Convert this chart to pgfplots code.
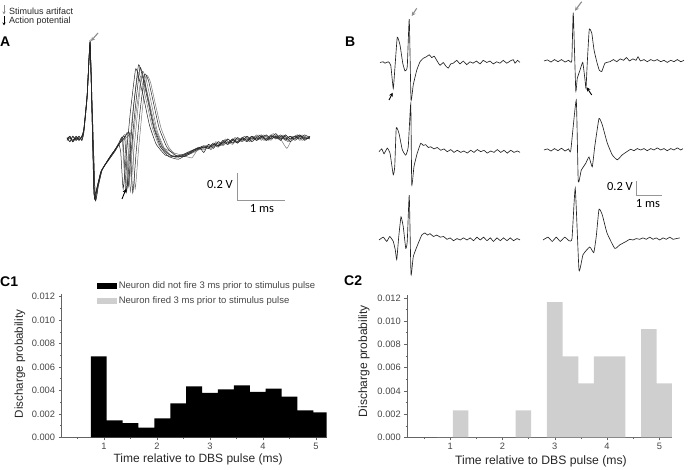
\documentclass[border=0pt]{standalone}
\usepackage{fontspec}
\setmainfont{Liberation Sans}
\newfontfamily\carlito{Carlito}
\usepackage{pgfplots}
\pgfplotsset{compat=1.18}
\usetikzlibrary{arrows.meta}
\definecolor{trace}{RGB}{35,35,35}
\definecolor{gtrace}{RGB}{120,120,120}
\definecolor{arrowgray}{RGB}{140,140,140}
\definecolor{bargray}{RGB}{207,207,207}
\definecolor{axgray}{RGB}{100,100,100}
\definecolor{txtgray}{RGB}{70,70,70}
\definecolor{scalegray}{RGB}{150,150,150}

\pgfplotsset{
  awave/.style={hide axis, clip=false, x=48pt, y=135pt, xmin=0, xmax=5.1, ymin=-0.6, ymax=0.8, anchor=south west},
  bwave/.style={hide axis, clip=false, x=25pt, y=70pt, xmin=0, xmax=5.7, ymin=-0.6, ymax=0.8, anchor=south west},
  bk/.style={trace, line width=0.5pt, smooth, tension=0.25},
  gy/.style={gtrace, line width=0.5pt, smooth, tension=0.25},
  bt/.style={trace, line width=0.65pt, smooth, tension=0.25},
  hist/.style={
    scale only axis, anchor=south west,
    axis x line*=bottom, axis y line*=left,
    axis line style={draw=axgray, line width=0.6pt, -},
    xtick={1,2,3,4,5}, minor xtick={0.5,1.5,2.5,3.5,4.5},
    ytick={0,0.002,0.004,0.006,0.008,0.010,0.012},
    minor ytick={0.001,0.003,0.005,0.007,0.009,0.011},
    tick align=outside, major tick length=3pt, minor tick length=1.6pt,
    tick style={draw=axgray, line width=0.5pt},
    scaled y ticks=false,
    yticklabel style={/pgf/number format/.cd, fixed, fixed zerofill, precision=3},
    xticklabel style={yshift=1pt},
    /pgf/number format/assume math mode=true,
    ticklabel style={font=\fontsize{9.3}{9.3}\selectfont, text=txtgray},
    xlabel={Time relative to DBS pulse (ms)},
    ylabel={Discharge probability},
    ymin=0, ymax=0.0122,
  },
}

\begin{document}
\begin{tikzpicture}
\path[use as bounding box] (0pt,0pt) rectangle (688pt,470pt);

% ---------- top key ----------
\draw[-{Stealth[length=3pt,width=3pt]}, arrowgray, line width=0.8pt] (4pt,465pt) -- (4pt,455.5pt);
\node[anchor=west, inner sep=0pt, font=\fontsize{9}{9}\selectfont, text=black!85] at (9pt,459pt) {Stimulus artifact};
\draw[-{Stealth[length=3pt,width=3pt]}, black, line width=0.8pt] (4pt,454pt) -- (4pt,444.5pt);
\node[anchor=west, inner sep=0pt, font=\fontsize{9}{9}\selectfont, text=black!85] at (9pt,449pt) {Action potential};

% ---------- panel labels ----------
\node[anchor=north west, inner sep=0pt, font=\fontsize{14}{14}\selectfont\bfseries] at (0pt,433pt) {A};
\node[anchor=north west, inner sep=0pt, font=\fontsize{14}{14}\selectfont\bfseries] at (345pt,433pt) {B};
\node[anchor=north west, inner sep=0pt, font=\fontsize{14}{14}\selectfont\bfseries] at (0pt,193pt) {C1};
\node[anchor=north west, inner sep=0pt, font=\fontsize{14}{14}\selectfont\bfseries] at (344pt,194pt) {C2};

% ---------- Panel A ----------
\begin{axis}[awave, at={(67pt,250pt)}]
\addplot[gy] coordinates {(0,0.01) (0.06,-0.02) (0.12,0.02) (0.19,-0.01) (0.25,0.02) (0.31,-0.01) (0.35,0.05) (0.42,0.31) (0.48,0.71) (0.53,0.18) (0.59,-0.45) (0.65,-0.35) (0.73,-0.23) (0.83,-0.17) (0.92,-0.12) (1.0,-0.08)
 (1.08,-0.04) (1.15,0.0) (1.22,-0.38) (1.29,-0.1) (1.37,0.2) (1.48,0.49) (1.55,0.44) (1.66,0.27) (1.78,0.08) (1.92,-0.05) (2.1,-0.11) (2.3,-0.14) (2.5,-0.1) (2.7,-0.07)
 (2.85,-0.08) (2.95,-0.05) (3.05,-0.06) (3.15,-0.03) (3.25,-0.05) (3.35,-0.02) (3.45,-0.04) (3.55,0.0) (3.65,-0.02) (3.75,0.01) (3.85,-0.01) (3.95,0.02) (4.05,-0.01) (4.15,0.03) (4.25,0.0) (4.35,0.02) (4.45,-0.01) (4.55,0.03) (4.65,0.0) (4.75,0.02) (4.85,-0.01) (4.95,0.02) (5.06,0.0)};
\addplot[gy] coordinates {(0,0) (0.06,0.02) (0.12,-0.02) (0.19,0.01) (0.25,-0.01) (0.31,0.02) (0.35,0.07) (0.42,0.33) (0.48,0.72) (0.52,0.21) (0.57,-0.43) (0.63,-0.36) (0.71,-0.24) (0.81,-0.18) (0.9,-0.13) (1.0,-0.08)
 (1.1,-0.03) (1.2,0.01) (1.26,0.04) (1.32,-0.39) (1.39,-0.1) (1.47,0.2) (1.57,0.5) (1.65,0.44) (1.76,0.26) (1.88,0.06) (2.03,-0.07) (2.2,-0.13) (2.4,-0.12) (2.6,-0.1) (2.8,-0.06)
 (2.9,-0.05) (3.0,-0.07) (3.1,-0.03) (3.2,-0.05) (3.3,-0.01) (3.4,-0.03) (3.5,0.01) (3.6,-0.02) (3.7,0.02) (3.8,-0.01) (3.9,0.02) (4.0,0.0) (4.1,0.03) (4.2,-0.01) (4.3,0.02) (4.4,0.0) (4.5,0.03) (4.6,-0.01) (4.7,0.02) (4.8,0.01) (4.9,0.03) (5.0,0.0) (5.06,0.02)};
\addplot[gy] coordinates {(0,-0.01) (0.06,0.01) (0.12,-0.01) (0.19,0.02) (0.25,0.0) (0.31,0.01) (0.35,0.06) (0.42,0.32) (0.48,0.7) (0.52,0.2) (0.56,-0.4) (0.61,-0.38) (0.7,-0.25) (0.8,-0.19) (0.9,-0.14) (1.0,-0.09)
 (1.1,-0.03) (1.2,0.0) (1.32,0.04) (1.36,0.03) (1.42,-0.37) (1.49,-0.08) (1.57,0.22) (1.66,0.47) (1.74,0.42) (1.84,0.26) (1.96,0.08) (2.12,-0.06) (2.3,-0.13) (2.5,-0.12) (2.7,-0.09) (2.9,-0.05)
 (3.0,-0.08) (3.1,-0.02) (3.2,-0.05) (3.3,0.0) (3.4,-0.03) (3.5,0.01) (3.6,-0.01) (3.7,0.02) (3.8,-0.02) (3.9,0.01) (4.0,0.03) (4.1,-0.01) (4.2,0.01) (4.3,0.04) (4.4,0.0) (4.5,0.02) (4.6,-0.02) (4.7,0.01) (4.8,0.03) (4.9,-0.01) (5.06,0.02)};
\addplot[gy] coordinates {(0,0.01) (0.06,-0.02) (0.12,0.02) (0.19,-0.01) (0.25,0.02) (0.31,-0.01) (0.35,0.05) (0.42,0.31) (0.48,0.71) (0.53,0.18) (0.59,-0.45) (0.65,-0.35) (0.73,-0.23) (0.83,-0.17) (0.92,-0.12) (1.0,-0.08)
 (1.1,-0.02) (1.22,0.03) (1.29,-0.35) (1.36,-0.07) (1.44,0.2) (1.55,0.46) (1.63,0.41) (1.73,0.25) (1.85,0.07) (2.0,-0.06) (2.2,-0.1) (2.4,-0.12) (2.6,-0.14) (2.72,-0.08) (2.85,-0.07)
 (2.95,-0.04) (3.05,-0.06) (3.15,-0.02) (3.25,-0.04) (3.35,0.0) (3.45,-0.03) (3.55,0.01) (3.65,-0.02) (3.75,0.02) (3.85,0.0) (3.95,0.03) (4.05,0.0) (4.15,0.02) (4.25,-0.01) (4.35,0.03) (4.45,0.0) (4.58,-0.07) (4.7,0.01) (4.8,0.03) (4.9,0.0) (5.06,0.02)};
\addplot[bk] coordinates {(0,0) (0.06,0.02) (0.12,-0.02) (0.19,0.01) (0.25,-0.01) (0.31,0.02) (0.35,0.07) (0.42,0.33) (0.48,0.72) (0.52,0.21) (0.57,-0.43) (0.63,-0.36) (0.71,-0.24) (0.81,-0.18) (0.9,-0.13) (1.0,-0.08)
 (1.08,-0.04) (1.12,-0.1) (1.17,-0.37) (1.24,-0.1) (1.32,0.2) (1.43,0.52) (1.5,0.45) (1.6,0.3) (1.72,0.1) (1.86,-0.04) (2.05,-0.12) (2.25,-0.13) (2.45,-0.11) (2.65,-0.08)
 (2.85,-0.06) (2.95,-0.07) (3.05,-0.04) (3.15,-0.05) (3.25,-0.02) (3.35,-0.04) (3.45,-0.01) (3.55,-0.03) (3.65,0.0) (3.75,-0.02) (3.85,0.01) (3.95,-0.01) (4.05,0.02) (4.15,0.0) (4.25,0.03) (4.35,0.0) (4.45,0.02) (4.55,-0.01) (4.65,0.02) (4.75,0.0) (4.85,0.03) (4.95,0.0) (5.06,0.01)};
\addplot[bk] coordinates {(0,-0.01) (0.06,0.01) (0.12,-0.01) (0.19,0.02) (0.25,0.0) (0.31,0.01) (0.35,0.06) (0.42,0.32) (0.48,0.7) (0.52,0.2) (0.56,-0.4) (0.61,-0.38) (0.7,-0.25) (0.8,-0.19) (0.9,-0.14) (1.0,-0.09)
 (1.1,-0.03) (1.2,0.02) (1.27,-0.36) (1.34,-0.08) (1.42,0.22) (1.52,0.53) (1.6,0.45) (1.7,0.28) (1.82,0.08) (1.98,-0.06) (2.15,-0.12) (2.35,-0.13) (2.55,-0.1) (2.75,-0.06)
 (2.85,-0.1) (2.95,-0.04) (3.05,-0.07) (3.15,-0.02) (3.25,-0.04) (3.35,0.0) (3.45,-0.03) (3.55,0.01) (3.65,-0.01) (3.75,0.02) (3.85,-0.02) (3.95,0.01) (4.05,0.03) (4.15,-0.01) (4.25,0.01) (4.35,0.04) (4.45,0.0) (4.55,0.02) (4.65,-0.02) (4.75,0.01) (4.85,0.03) (4.95,-0.01) (5.06,0.02)};
\addplot[bk] coordinates {(0,0.01) (0.06,-0.02) (0.12,0.02) (0.19,-0.01) (0.25,0.02) (0.31,-0.01) (0.35,0.05) (0.42,0.31) (0.48,0.71) (0.53,0.18) (0.59,-0.45) (0.65,-0.35) (0.73,-0.23) (0.83,-0.17) (0.92,-0.12) (1.0,-0.08)
 (1.1,-0.03) (1.2,0.01) (1.3,0.045) (1.37,-0.4) (1.44,-0.1) (1.52,0.2) (1.62,0.48) (1.7,0.43) (1.8,0.27) (1.92,0.08) (2.08,-0.06) (2.25,-0.12) (2.45,-0.13) (2.65,-0.09) (2.85,-0.06)
 (2.95,-0.07) (3.05,-0.04) (3.15,-0.06) (3.25,-0.02) (3.35,-0.04) (3.45,0.0) (3.55,-0.03) (3.65,0.01) (3.75,-0.01) (3.85,0.02) (3.95,-0.01) (4.05,0.01) (4.15,0.03) (4.25,0.0) (4.35,0.02) (4.45,-0.01) (4.55,0.03) (4.65,0.0) (4.75,0.02) (4.85,0.0) (4.95,0.03) (5.06,0.01)};
\addplot[bk] coordinates {(0,0) (0.06,0.02) (0.12,-0.02) (0.19,0.01) (0.25,-0.01) (0.31,0.02) (0.35,0.07) (0.42,0.33) (0.48,0.72) (0.52,0.21) (0.57,-0.44) (0.63,-0.36) (0.71,-0.24) (0.81,-0.18) (0.9,-0.13) (1.0,-0.08)
 (1.08,-0.03) (1.16,0.01) (1.24,-0.39) (1.31,-0.1) (1.39,0.25) (1.49,0.55) (1.57,0.47) (1.68,0.29) (1.8,0.09) (1.95,-0.06) (2.12,-0.13) (2.32,-0.15) (2.52,-0.11) (2.72,-0.07)
 (2.85,-0.05) (2.95,-0.06) (3.05,-0.03) (3.15,-0.05) (3.25,-0.01) (3.35,-0.03) (3.45,0.0) (3.55,-0.02) (3.65,0.01) (3.75,-0.01) (3.85,0.02) (3.95,0.0) (4.05,0.02) (4.15,-0.01) (4.25,0.02) (4.35,0.01) (4.45,0.03) (4.55,0.0) (4.65,0.02) (4.75,-0.01) (4.85,0.02) (4.95,0.01) (5.06,0.0)};
\end{axis}
% scale bar A
\draw[scalegray, line width=0.6pt] (237pt,297pt) -- (237pt,270pt) -- (285pt,270pt);
\node[anchor=east, inner sep=0pt, font=\carlito\fontsize{12.5}{12.5}\selectfont] at (233pt,285pt) {0.2 V};
\node[inner sep=0pt, font=\carlito\fontsize{12.5}{12.5}\selectfont] at (262pt,261pt) {1 ms};
% arrows A
\draw[-{Stealth[length=4pt,width=4pt]}, arrowgray, line width=1.1pt] (98pt,437pt) -- (91pt,429pt);
\draw[-{Stealth[length=4pt,width=4pt]}, black, line width=0.9pt] (122pt,271pt) -- (126pt,281pt);

% ---------- Panel B ----------
\begin{axis}[bwave, at={(380pt,365.5pt)}]
\addplot[bt] coordinates {(0,0) (0.12,0.01) (0.2,-0.01) (0.33,0.01) (0.43,-0.04) (0.53,-0.37) (0.6,-0.06) (0.69,0.36) (0.8,0.25) (0.91,-0.01) (1.0,-0.12) (1.09,-0.06) (1.17,0.62) (1.24,-0.53) (1.33,-0.32) (1.47,-0.11) (1.6,0.01) (1.73,0.06) (1.85,0.08) (1.97,0.11) (2.07,0.07) (2.17,0.09) (2.27,0.03) (2.4,-0.04) (2.53,0) (2.63,-0.05) (2.73,-0.08) (2.83,-0.02) (2.93,-0.01)
 (3.07,0.03) (3.2,-0.02) (3.33,0.02) (3.47,-0.03) (3.6,0.01) (3.72,-0.01) (3.86,0.02) (4.0,-0.02) (4.13,0.03) (4.27,0.0) (4.4,0.02) (4.53,-0.02) (4.67,0.01) (4.8,-0.01) (4.93,0.03) (5.07,-0.01) (5.2,0.02) (5.33,0.04) (5.4,-0.01) (5.5,0.03) (5.6,0.0)};
\end{axis}
\begin{axis}[bwave, at={(544pt,367pt)}]
\addplot[bt] coordinates {(0,0) (0.14,0.015) (0.28,-0.015) (0.42,0.02) (0.56,-0.01) (0.7,0.02) (0.84,-0.015) (0.98,0.01) (1.11,0.0) (1.17,0.69) (1.27,-0.42) (1.33,-0.25) (1.44,-0.13) (1.55,-0.02) (1.64,-0.27) (1.68,-0.39) (1.73,-0.03) (1.81,0.45) (1.91,0.40) (2.0,0.16) (2.11,-0.01) (2.21,-0.13) (2.31,-0.15) (2.44,-0.03) (2.64,-0.01)
 (2.78,0.02) (2.91,-0.01) (3.05,0.03) (3.18,0.01) (3.3,0.05) (3.42,0.0) (3.55,0.03) (3.68,0.01) (3.76,0.06) (3.86,0.0) (4.0,0.02) (4.13,-0.01) (4.27,0.02) (4.4,0.0) (4.53,0.02) (4.67,-0.01) (4.8,0.01) (4.93,-0.02) (5.07,0.01) (5.2,-0.01) (5.33,0.02) (5.47,-0.01) (5.6,0.01)};
\end{axis}
\begin{axis}[bwave, at={(379pt,276.3pt)}]
\addplot[bt] coordinates {(0,0) (0.11,0.04) (0.2,-0.03) (0.33,0.05) (0.44,-0.02) (0.57,-0.33) (0.63,-0.21) (0.69,0.34) (0.8,0.26) (0.93,0.03) (1.07,-0.05) (1.17,0.07) (1.27,0.68) (1.31,-0.47) (1.4,-0.21) (1.53,-0.02) (1.67,0.12) (1.77,0.09) (1.87,0.1) (1.97,0.06) (2.07,0.07)
 (2.2,0.04) (2.33,0.06) (2.47,0.02) (2.6,0.04) (2.73,0.0) (2.87,0.03) (3.0,-0.01) (3.13,0.02) (3.27,-0.01) (3.4,0.01) (3.53,-0.02) (3.67,0.02) (3.8,-0.01) (3.93,0.03) (4.07,0.0) (4.2,0.02) (4.33,-0.02) (4.47,0.01) (4.6,-0.01) (4.73,0.03) (4.87,-0.01) (5.0,0.02) (5.13,-0.02) (5.27,0.02) (5.4,-0.01) (5.53,0.01) (5.64,-0.01)};
\end{axis}
\begin{axis}[bwave, at={(544pt,278pt)}]
\addplot[bt] coordinates {(0,0) (0.14,0.015) (0.28,-0.015) (0.42,0.02) (0.56,-0.01) (0.7,0.025) (0.84,-0.015) (0.98,0.015) (1.07,-0.01) (1.29,0.71) (1.37,-0.45) (1.49,-0.29) (1.67,-0.19) (1.8,-0.1) (1.93,-0.24) (2.03,0.05) (2.2,0.45) (2.33,0.36) (2.53,0.1) (2.73,-0.07) (2.93,-0.14) (3.13,-0.07) (3.33,-0.02)
 (3.47,0.01) (3.6,-0.01) (3.73,0.02) (3.87,0.0) (4.0,0.02) (4.13,-0.01) (4.27,0.02) (4.4,0.0) (4.53,0.03) (4.67,0.0) (4.8,0.02) (4.93,-0.01) (5.07,0.02) (5.2,0.0) (5.33,0.03) (5.47,0.0) (5.56,0.02)};
\end{axis}
\begin{axis}[bwave, at={(379pt,188pt)}]
\addplot[bt] coordinates {(0,0) (0.17,0.04) (0.31,-0.02) (0.43,0.05) (0.57,-0.02) (0.65,-0.14) (0.71,-0.28) (0.79,0.05) (0.88,0.33) (0.97,0.19) (1.07,-0.12) (1.13,-0.02) (1.21,0.64) (1.28,-0.49) (1.37,-0.24) (1.51,-0.1) (1.71,0.07) (1.84,0.1) (1.94,0.07) (2.04,0.09) (2.18,0.05) (2.31,0.07)
 (2.45,0.04) (2.58,0.05) (2.72,0.01) (2.85,0.03) (2.98,-0.01) (3.12,0.02) (3.25,0.0) (3.38,0.03) (3.52,0.0) (3.65,0.03) (3.78,-0.01) (3.92,0.04) (4.05,0.0) (4.18,0.04) (4.32,-0.01) (4.45,0.03) (4.58,-0.02) (4.72,0.03) (4.85,-0.01) (4.98,0.03) (5.12,-0.01) (5.25,0.03) (5.38,-0.01) (5.52,0.02) (5.64,0.0)};
\end{axis}
\begin{axis}[bwave, at={(543pt,188pt)}]
\addplot[bt] coordinates {(0,0) (0.2,0.04) (0.37,-0.02) (0.53,0.04) (0.69,-0.02) (0.87,0.04) (1.04,-0.01) (1.16,0.02) (1.29,0.74) (1.44,-0.43) (1.6,-0.21) (1.87,-0.1) (2.03,-0.18) (2.13,0.05) (2.24,0.44) (2.37,0.36) (2.56,0.1) (2.87,-0.12) (3.07,-0.07) (3.33,-0.02)
 (3.47,0.01) (3.6,0.0) (3.73,0.02) (3.87,0.01) (4.0,0.03) (4.13,0.01) (4.27,0.04) (4.4,0.01) (4.53,0.03) (4.67,0.0) (4.8,0.03) (4.93,0.01) (5.07,0.04) (5.2,0.01) (5.33,0.02) (5.47,0.03)};
\end{axis}
% scale bar B
\draw[scalegray, line width=0.6pt] (636.7pt,289pt) -- (636.7pt,275pt) -- (661.7pt,275pt);
\node[anchor=east, inner sep=0pt, font=\carlito\fontsize{12.5}{12.5}\selectfont] at (633pt,283pt) {0.2 V};
\node[inner sep=0pt, font=\carlito\fontsize{12.5}{12.5}\selectfont] at (648pt,266.5pt) {1 ms};
% arrows B
\draw[-{Stealth[length=4pt,width=4pt]}, arrowgray, line width=1.1pt] (416.7pt,461.7pt) -- (411.7pt,454pt);
\draw[-{Stealth[length=4pt,width=4pt]}, black, line width=0.9pt] (389pt,370pt) -- (392.7pt,377.3pt);
\draw[-{Stealth[length=4pt,width=4pt]}, arrowgray, line width=1.1pt] (581.7pt,468.3pt) -- (575pt,459.3pt);
\draw[-{Stealth[length=4pt,width=4pt]}, black, line width=0.9pt] (591.7pt,375pt) -- (586.7pt,382.7pt);

% ---------- Panel C1 ----------
\begin{axis}[hist, at={(61.6pt,32.7pt)}, width=265pt, height=142.9pt,
  xmin=0.2, xmax=5.2,
  every axis x label/.style={at={(axis description cs:0.515,-0.152)}, anchor=center, font=\fontsize{12}{12}\selectfont, text=black!85},
  every axis y label/.style={at={(axis description cs:-0.157,0.513)}, anchor=center, rotate=90, font=\fontsize{11.6}{11.6}\selectfont, text=black!85},
  legend style={at={(axis description cs:0.134,1.10)}, anchor=north west, draw=none, fill=none,
    inner sep=0pt, row sep=3.5pt, font=\fontsize{9.5}{9.5}\selectfont, text=txtgray,
    nodes={inner sep=1.5pt}},
  legend cell align=left,
  legend image code/.code={\fill[#1] (0pt,-3pt) rectangle (20pt,3pt);},
]
\addplot[ybar interval, fill=black, draw=none] coordinates {
 (0.75,0.0069) (1.05,0.00145) (1.35,0.0012) (1.65,0.00083) (1.95,0.00162)
 (2.25,0.0029) (2.55,0.00435) (2.85,0.0038) (3.15,0.0041) (3.45,0.00444)
 (3.75,0.00387) (4.05,0.00415) (4.35,0.00347) (4.65,0.0023) (4.95,0.00213) (5.25,0.00213)};
\addlegendentry{Neuron did not fire 3 ms prior to stimulus pulse}
\addlegendimage{fill=bargray, draw=none}
\addlegendentry{Neuron fired 3 ms prior to stimulus pulse}
\end{axis}

% ---------- Panel C2 ----------
\begin{axis}[hist, at={(407.3pt,32.5pt)}, width=264.6pt, height=142pt,
  xmin=0.18, xmax=5.24,
  every axis x label/.style={at={(axis description cs:0.505,-0.168)}, anchor=center, font=\fontsize{12.2}{12.2}\selectfont, text=black!85},
  every axis y label/.style={at={(axis description cs:-0.164,0.537)}, anchor=center, rotate=90, font=\fontsize{12}{12}\selectfont, text=black!85},
]
\addplot[ybar interval, fill=bargray, draw=none] coordinates {
 (0.75,0) (1.05,0.00233) (1.35,0) (1.65,0) (1.95,0)
 (2.25,0.00233) (2.55,0) (2.85,0.01163) (3.15,0.00698) (3.45,0.00465)
 (3.75,0.00698) (4.05,0.00698) (4.35,0) (4.65,0.0093) (4.95,0.00465) (5.25,0.00465)};
\end{axis}
\end{tikzpicture}
\end{document}
